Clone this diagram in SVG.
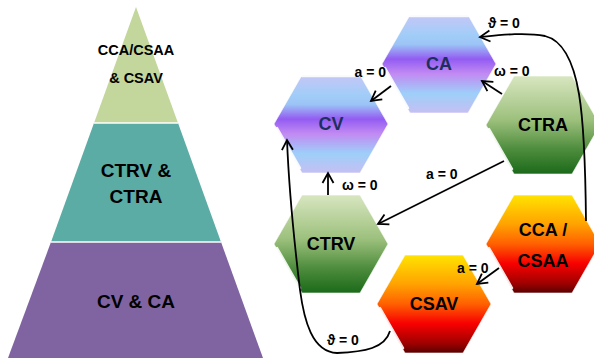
<svg xmlns="http://www.w3.org/2000/svg" width="594" height="358" viewBox="0 0 594 358">
<defs>
<style>
.lbl{font-family:"Liberation Sans",Arial,sans-serif;font-weight:bold;font-size:14px;fill:#000}
.pt{font-family:"Liberation Sans",Arial,sans-serif;font-weight:bold;fill:#000;text-anchor:middle}
.ht{font-family:"Liberation Sans",Arial,sans-serif;font-weight:bold;font-size:18px;text-anchor:middle}
.conn{fill:none;stroke:#000;stroke-width:1.8;marker-end:url(#arr)}
.hl{fill:none;stroke:#fff;stroke-width:2.5;stroke-linecap:round;opacity:0.9}
.edge{stroke:#fff;stroke-width:1;stroke-opacity:0.6}
</style>
<linearGradient id="gBlue" x1="0" y1="0" x2="0" y2="1">
<stop offset="0" stop-color="#c6c6f6"/>
<stop offset="0.2" stop-color="#a2cdf8"/>
<stop offset="0.3" stop-color="#9cc4f6"/>
<stop offset="0.45" stop-color="#935cf2"/>
<stop offset="0.6" stop-color="#c28af2"/>
<stop offset="0.8" stop-color="#9dcff9"/>
<stop offset="1" stop-color="#c6bff2"/>
</linearGradient>
<linearGradient id="gGreen" x1="0" y1="0" x2="0" y2="1">
<stop offset="0" stop-color="#d8e6c0"/>
<stop offset="0.45" stop-color="#9cc07c"/>
<stop offset="0.75" stop-color="#4d8c3c"/>
<stop offset="1" stop-color="#1a6a1a"/>
</linearGradient>
<linearGradient id="gOrange" x1="0" y1="0" x2="0" y2="1">
<stop offset="0" stop-color="#ffe400"/>
<stop offset="0.3" stop-color="#ffa200"/>
<stop offset="0.5" stop-color="#ff6000"/>
<stop offset="0.7" stop-color="#f80000"/>
<stop offset="0.9" stop-color="#a00000"/>
<stop offset="1" stop-color="#5a0000"/>
</linearGradient>
<polygon id="hex" points="-57,0 -29,-49 29,-49 57,0 29,49 -29,49"/>
<marker id="arr" markerUnits="userSpaceOnUse" markerWidth="14" markerHeight="14" refX="11" refY="6" orient="auto" viewBox="0 0 14 12">
<path d="M1,0.5 L11,6 L1,11.5" fill="none" stroke="#000" stroke-width="1.8"/>
</marker>
</defs>

<g id="pyramid">
<polygon points="136,7 94,123 178,123" fill="#c3d69b"/>
<polygon points="94,123 178,123 221,242 51,242" fill="#5aaca4"/>
<polygon points="51,242 221,242 263,358 8,358" fill="#8064a2"/>
<line x1="94" y1="123" x2="178" y2="123" stroke="#fff" stroke-width="1.5"/>
<line x1="51" y1="242" x2="221" y2="242" stroke="#fff" stroke-width="1.5"/>
<text class="pt" x="136" y="55" font-size="14.5">CCA/CSAA</text>
<text class="pt" x="136" y="83" font-size="14.5">&amp; CSAV</text>
<text class="pt" x="136" y="177" font-size="19">CTRV &amp;</text>
<text class="pt" x="136" y="203" font-size="19">CTRA</text>
<text class="pt" x="136" y="308" font-size="19">CV &amp; CA</text>
</g>

<g id="CA" transform="translate(439,64)">
<use href="#hex" fill="url(#gBlue)" class="edge"/>
<line class="hl" x1="-29" y1="-48" x2="29" y2="-48" stroke-width="1.5"/>
<line class="hl" x1="-54" y1="4" x2="-31" y2="44"/>
<text class="ht" x="0" y="6" fill="#1f2f5c">CA</text>
</g>
<g id="CV" transform="translate(331,124)">
<use href="#hex" fill="url(#gBlue)" class="edge"/>
<line class="hl" x1="-29" y1="-48" x2="29" y2="-48" stroke-width="1.5"/>
<line class="hl" x1="-54" y1="4" x2="-31" y2="44"/>
<text class="ht" x="0" y="6" fill="#1f2f5c">CV</text>
</g>
<g id="CTRA" transform="translate(543,125)">
<use href="#hex" fill="url(#gGreen)" class="edge"/>
<line class="hl" x1="-54" y1="4" x2="-31" y2="44"/>
<text class="ht" x="0" y="6" fill="#000">CTRA</text>
</g>
<g id="CTRV" transform="translate(331,244)">
<use href="#hex" fill="url(#gGreen)" class="edge"/>
<line class="hl" x1="-54" y1="4" x2="-31" y2="44"/>
<text class="ht" x="0" y="6" fill="#000">CTRV</text>
</g>
<g id="CCA_CSAA" transform="translate(543,244)">
<use href="#hex" fill="url(#gOrange)" class="edge"/>
<line class="hl" x1="-54" y1="4" x2="-31" y2="44"/>
<text class="ht" x="0" y="-8" fill="#000">CCA /</text>
<text class="ht" x="0" y="23" fill="#000">CSAA</text>
</g>
<g id="CSAV" transform="translate(434,304)">
<use href="#hex" fill="url(#gOrange)" class="edge"/>
<line class="hl" x1="-54" y1="4" x2="-31" y2="44"/>
<text class="ht" x="0" y="6" fill="#000">CSAV</text>
</g>

<g id="connectors">
<path class="conn" d="M391,86 L371,101"/>
<path class="conn" d="M502,94 L482,81"/>
<path class="conn" d="M586,221 C585,120 582,45 545,36 C525,32 500,35 480,37"/>
<path class="conn" d="M328,195 L328,173"/>
<path class="conn" d="M504,161 L378,224"/>
<path class="conn" d="M499,268 L477,284"/>
<path class="conn" d="M390,331 C385,348 365,352 337,353 C312,352 304,320 300,290 C294,240 289,190 287,140"/>
<text class="lbl" x="386" y="77" text-anchor="end">a = 0</text>
<text class="lbl" x="494" y="76">ω = 0</text>
<text class="lbl" x="488" y="28">ϑ = 0</text>
<text class="lbl" x="342" y="190">ω = 0</text>
<text class="lbl" x="426" y="179">a = 0</text>
<text class="lbl" x="457" y="273">a = 0</text>
<text class="lbl" x="327" y="345">ϑ = 0</text>
</g>
</svg>
